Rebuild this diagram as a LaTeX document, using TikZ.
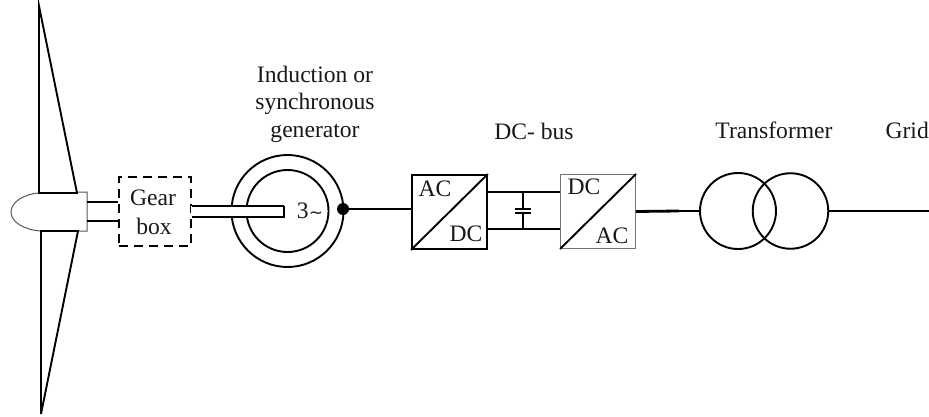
\documentclass[tikz,border=0pt]{standalone}
\usepackage{fontspec}
\setmainfont{Liberation Serif}
\newfontfamily\symfont{DejaVu Sans}
\begin{document}
\begin{tikzpicture}[x=1pt,y=-1pt,
  thick line/.style={line width=2.8pt},
  mid line/.style={line width=1.9pt},
  fine line/.style={line width=1.3pt},
  thin line/.style={line width=1pt,draw=black!65},
  lbl/.style={font=\fontsize{23.6}{27.5}\selectfont,inner sep=0pt,align=center,text=black!90},
  conv/.style={draw,minimum width=75pt,minimum height=74pt,inner sep=0pt,anchor=north west}]
\useasboundingbox (0,0) rectangle (929,417);
\fill[white] (0,0) rectangle (929,417);
% hub
\draw[thin line] (39,193) .. controls (24,194) and (11,202) .. (11,212) .. controls (11,222) and (24,230) .. (41,231) -- (87,231) -- (87,192) -- (77,192);
% blades
\draw[mid line,line join=miter] (39,193) -- (39,6) -- (77,193) -- cycle;
\draw[mid line,line join=miter] (41,231) -- (41,414) -- (78,231) -- cycle;
% gear box
\node[draw,line width=2.2pt,dash pattern=on 9pt off 6pt,minimum width=72pt,minimum height=69pt,inner sep=0pt] (gear) at (155,211.5) {};
\node[lbl] at (153,198) {Gear};
\node[lbl] at (154,226) {box};
\coordinate (hubA) at (87,202);
\coordinate (hubB) at (87,221);
\draw[thick line] (hubA) -- (hubA -| gear.west);
\draw[thick line] (hubB) -- (hubB -| gear.west);
% generator
\node[draw,circle,mid line,minimum size=112pt,inner sep=0pt] (outer) at (287.5,211) {};
\node[draw,circle,mid line,minimum size=82pt,inner sep=0pt] (inner) at (287.5,211) {};
\fill[white] (191,206) rectangle (284,217);
\coordinate (sT) at (284,206);
\coordinate (sB) at (284,217);
\draw[mid line] (sT -| gear.east) -- (sT);
\draw[thick line] (sT) -- (sB) -- (sB -| gear.east);
\node[lbl] at (310,211) {3{\symfont\fontsize{17}{20}\selectfont ∼}};
\node[circle,fill=black,minimum size=12pt,inner sep=0pt] (dot) at (343,209) {};
% converters
\node[conv,line width=1.9pt] (c1) at (411,174) {};
\node[conv,line width=1pt,draw=black!55] (c2) at (560,174) {};
\draw[mid line] (c1.south west) -- (c1.north east);
\draw[mid line] (c2.south west) -- (c2.north east);
\node[lbl] at (435,189) {AC};
\node[lbl] at (466,234) {DC};
\node[lbl] at (584,187) {DC};
\node[lbl] at (612,236) {AC};
\draw[mid line] (dot) -- (dot -| c1.west);
% bus
\coordinate (b1) at (486,192);
\coordinate (b2) at (486,229);
\coordinate (capT) at (523,192);
\coordinate (capB) at (523,229);
\draw[thick line] (b1) -- (b1 -| c2.west);
\draw[thick line] (b2) -- (b2 -| c2.west);
\coordinate (p1) at (523,209);
\coordinate (p2) at (523,213);
\draw[mid line] (capT) -- (p1);
\draw[mid line] (p2) -- (capB);
\draw[thick line] ([xshift=-8pt]p1) -- ([xshift=8pt]p1);
\draw[thick line] ([xshift=-8pt]p2) -- ([xshift=8pt]p2);
% transformer
\node[draw,circle,mid line,minimum size=76pt,inner sep=0pt] (t1) at (738,211) {};
\node[draw,circle,mid line,minimum size=75.5pt,inner sep=0pt] (t2) at (790.5,211) {};
\coordinate (join) at (679,211);
\draw[thick line] (c2.east) -- (join);
\draw[fine line] (join) -- (t1.west);
\coordinate (gridEnd) at (929,211);
\draw[fine line] (t2.east) -- (gridEnd);
% labels
\node[lbl] at (315,104) {Induction or\\synchronous\\generator};
\node[lbl] at (534,131) {DC- bus};
\node[lbl] at (774,130.5) {Transformer};
\node[lbl,anchor=east] at (929,130.5) {Grid};
\end{tikzpicture}
\end{document}
